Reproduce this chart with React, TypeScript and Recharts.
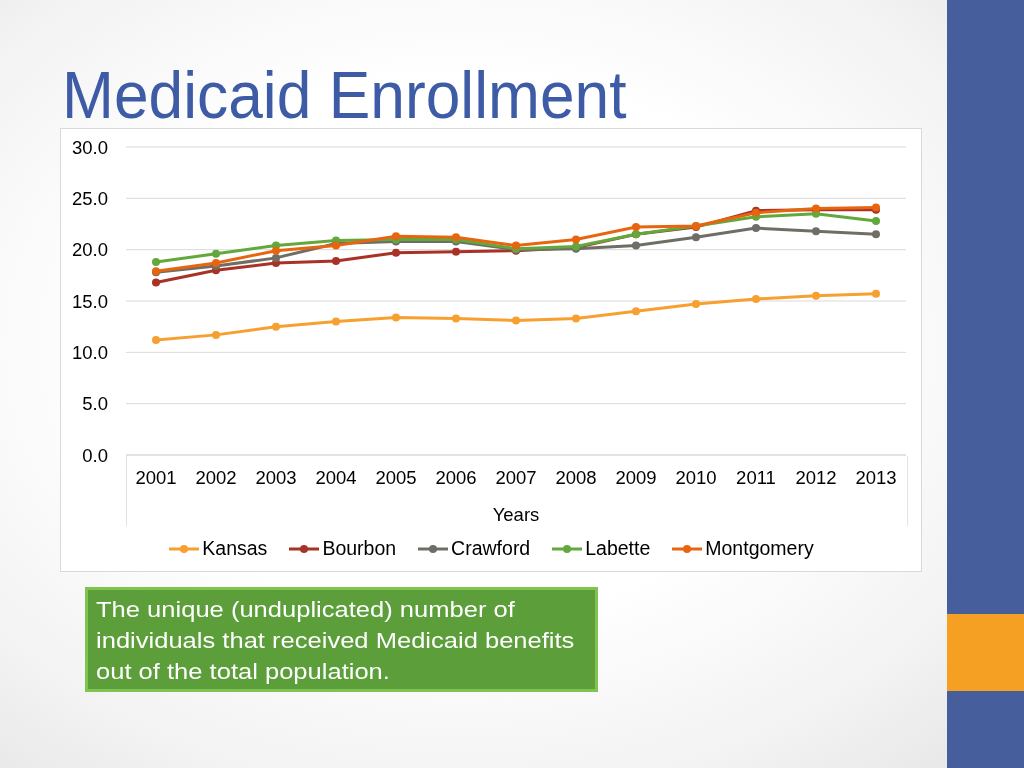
import React from 'react';
import {
  LineChart,
  Line,
  XAxis,
  YAxis,
  CartesianGrid,
  Legend,
} from 'recharts';

const years = ['2001', '2002', '2003', '2004', '2005', '2006', '2007', '2008', '2009', '2010', '2011', '2012', '2013'];
const kansas = [11.2, 11.7, 12.5, 13.0, 13.4, 13.3, 13.1, 13.3, 14.0, 14.7, 15.2, 15.5, 15.7];
const bourbon = [16.8, 18.0, 18.7, 18.9, 19.7, 19.8, 19.9, 20.2, 21.5, 22.2, 23.8, 23.9, 23.9];
const crawford = [17.8, 18.4, 19.2, 20.6, 20.8, 20.8, 20.0, 20.1, 20.4, 21.2, 22.1, 21.8, 21.5];
const labette = [18.8, 19.6, 20.4, 20.9, 21.0, 21.0, 20.1, 20.3, 21.5, 22.3, 23.2, 23.5, 22.8];
const montgomery = [17.9, 18.7, 19.9, 20.4, 21.3, 21.2, 20.4, 21.0, 22.2, 22.3, 23.6, 24.0, 24.1];
const yTicks = [0, 5, 10, 15, 20, 25, 30];

const series = [
  { key: 'Kansas', values: kansas, color: '#f7a030' },
  { key: 'Bourbon', values: bourbon, color: '#a93226' },
  { key: 'Crawford', values: crawford, color: '#6e6e66' },
  { key: 'Labette', values: labette, color: '#62a83c' },
  { key: 'Montgomery', values: montgomery, color: '#e8650f' },
];

const data = years.map((year, i) => {
  const row: any = { year };
  series.forEach((s) => {
    row[s.key] = s.values[i];
  });
  return row;
});

const FONT = '"Liberation Sans", Arial, sans-serif';

// legend keeps the series order (recharts would sort it by name)
const renderLegend = () => (
  <div style={{ display: 'flex', justifyContent: 'center', paddingTop: 12, marginLeft: 16 }}>
    {series.map((s, i) => (
      <div
        key={s.key}
        style={{ display: 'flex', alignItems: 'center', marginRight: i < series.length - 1 ? 22 : 0 }}
      >
        <svg width={30} height={12} style={{ marginRight: 3 }}>
          <line x1={0} y1={6} x2={30} y2={6} stroke={s.color} strokeWidth={3} />
          <circle cx={15} cy={6} r={4} fill={s.color} />
        </svg>
        <span style={{ fontFamily: FONT, fontSize: 19.5, color: '#000' }}>{s.key}</span>
      </div>
    ))}
  </div>
);

const App: React.FC = () => {
  return (
    <div
      style={{
        position: 'fixed',
        left: 0,
        top: 0,
        width: 1024,
        height: 768,
        overflow: 'hidden',
        background: 'radial-gradient(ellipse at 45% 45%, #ffffff 45%, #f3f3f3 75%, #e4e4e4 100%)',
        fontFamily: FONT,
      }}
    >
      <div
        style={{
          position: 'absolute',
          left: 62,
          top: 55,
          fontSize: 67,
          color: '#3e5ba6',
          lineHeight: '80px',
          whiteSpace: 'nowrap',
          transform: 'scaleX(0.93)',
          transformOrigin: 'left top',
        }}
      >
        Medicaid Enrollment
      </div>

      <div
        style={{
          position: 'absolute',
          left: 60,
          top: 128,
          width: 860,
          height: 442,
          background: '#fff',
          border: '1px solid #d9d9d9',
        }}
      >
        {/* category box side lines */}
        <div
          style={{
            position: 'absolute',
            left: 65,
            top: 327,
            width: 780,
            height: 70,
            borderLeft: '1px solid #e3e3e3',
            borderRight: '1px solid #e3e3e3',
          }}
        />
        <LineChart width={860} height={442} data={data} margin={{ top: 18, right: 15, left: 0, bottom: 0 }}>
          <CartesianGrid vertical={false} stroke="#d9d9d9" />
          <XAxis
            dataKey="year"
            padding={{ left: 30, right: 30 }}
            axisLine={{ stroke: '#d9d9d9' }}
            tickLine={false}
            tickSize={0}
            tickMargin={16}
            height={70}
            interval={0}
            tick={{ fontSize: 18.5, fill: '#000', fontFamily: FONT }}
            label={{ value: 'Years', position: 'insideBottom', offset: 4, fontSize: 18.5, fill: '#000', fontFamily: FONT }}
          />
          <YAxis
            domain={[0, 30]}
            ticks={yTicks}
            width={65}
            axisLine={false}
            tickLine={false}
            tickSize={0}
            tickMargin={18}
            tickFormatter={(v: number) => v.toFixed(1)}
            tick={{ fontSize: 18.5, fill: '#000', fontFamily: FONT }}
          />
          <Legend verticalAlign="bottom" height={46} content={renderLegend} />
          {series.map((s) => (
            <Line
              key={s.key}
              type="linear"
              dataKey={s.key}
              stroke={s.color}
              strokeWidth={3}
              dot={{ r: 4, fill: s.color, stroke: 'none' }}
              activeDot={false}
              isAnimationActive={false}
            />
          ))}
        </LineChart>
      </div>

      <div
        style={{
          position: 'absolute',
          left: 85,
          top: 587,
          width: 499,
          height: 95,
          background: '#5c9e3a',
          border: '3px solid #7fc44f',
          padding: '4px 0 0 8px',
          boxSizing: 'content-box',
        }}
      >
        <div
          style={{
            color: '#fff',
            fontSize: 22.5,
            lineHeight: '31px',
            whiteSpace: 'nowrap',
            transform: 'scaleX(1.135)',
            transformOrigin: 'left top',
          }}
        >
          The unique (unduplicated) number of
          <br />
          individuals that received Medicaid benefits
          <br />
          out of the total population.
        </div>
      </div>

      <div style={{ position: 'absolute', left: 947, top: 0, width: 77, height: 768, background: '#465e9c' }} />
      <div style={{ position: 'absolute', left: 947, top: 614, width: 77, height: 77, background: '#f6a023' }} />
    </div>
  );
};

export default App;
